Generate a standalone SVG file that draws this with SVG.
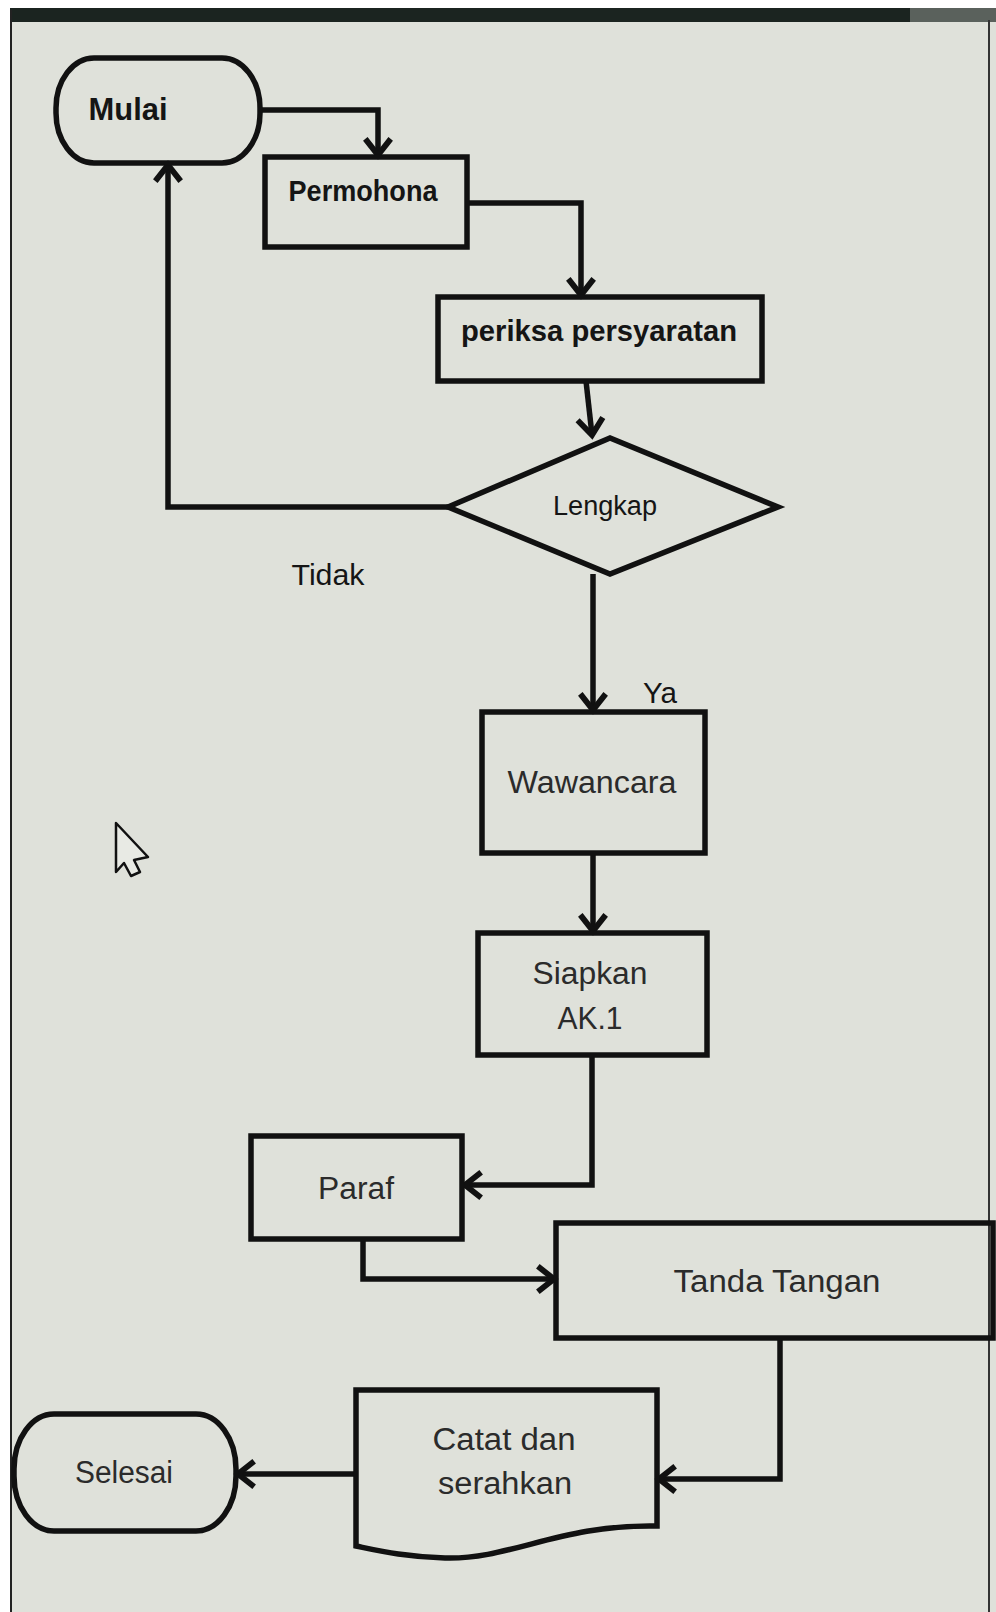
<svg xmlns="http://www.w3.org/2000/svg" width="996" height="1612" viewBox="0 0 996 1612">
<defs>
<style>
.shape{fill:none;stroke:#111;stroke-width:5.5;stroke-linejoin:miter}
.conn{fill:none;stroke:#111;stroke-width:5.5}
.t{font-family:"Liberation Sans",Arial,sans-serif;fill:#151515;text-anchor:middle}
.b{font-weight:bold}
.g{fill:#2b2b2b}
</style>
<marker id="ah" markerUnits="userSpaceOnUse" markerWidth="30" markerHeight="30" viewBox="-2 -2 20 26" refX="14" refY="11" orient="auto" overflow="visible">
<path d="M0,0 L14,11 L0,22" fill="none" stroke="#111" stroke-width="5"/>
</marker>
</defs>
<rect x="0" y="0" width="996" height="1612" fill="#ffffff"/>
<rect x="10" y="10" width="986" height="1602" fill="#dfe1da"/>
<rect x="10" y="8" width="900" height="14" fill="#1b2420"/>
<rect x="910" y="8" width="86" height="14" fill="#5a615c"/>
<line x1="11" y1="10" x2="11" y2="1612" stroke="#222" stroke-width="2"/>
<line x1="989" y1="20" x2="989" y2="1612" stroke="#333" stroke-width="2"/>

<g id="connectors">
<path class="conn" d="M260,110 H378 V155" marker-end="url(#ah)"/>
<path class="conn" d="M467,203 H581 V295" marker-end="url(#ah)"/>
<path class="conn" d="M586,381 L592,435" marker-end="url(#ah)"/>
<path class="conn" d="M448,507 H168 V165" marker-end="url(#ah)"/>
<path class="conn" d="M593,574 V710" marker-end="url(#ah)"/>
<path class="conn" d="M593,853 V931" marker-end="url(#ah)"/>
<path class="conn" d="M592,1055 V1185 H465" marker-end="url(#ah)"/>
<path class="conn" d="M363,1239 V1279 H554" marker-end="url(#ah)"/>
<path class="conn" d="M780,1338 V1479 H659" marker-end="url(#ah)"/>
<path class="conn" d="M356,1474 H238" marker-end="url(#ah)"/>
</g>

<g id="mulai">
<rect class="shape" x="56" y="58" width="204" height="105" rx="38" ry="50"/>
<text class="t b" x="128" y="120" font-size="31" textLength="79" lengthAdjust="spacingAndGlyphs">Mulai</text>
</g>
<g id="permohona">
<rect class="shape" x="265" y="157" width="202" height="90"/>
<text class="t b" x="363" y="201" font-size="29" textLength="149" lengthAdjust="spacingAndGlyphs">Permohona</text>
</g>
<g id="periksa">
<rect class="shape" x="438" y="297" width="324" height="84"/>
<text class="t b" x="599" y="341" font-size="29" textLength="276" lengthAdjust="spacingAndGlyphs">periksa persyaratan</text>
</g>
<g id="lengkap">
<polygon class="shape" points="448,507 610,438 778,507 610,574"/>
<text class="t" x="605" y="515" font-size="27" textLength="104" lengthAdjust="spacingAndGlyphs">Lengkap</text>
</g>
<g id="label-tidak">
<text class="t" x="328" y="585" font-size="30" textLength="73" lengthAdjust="spacingAndGlyphs">Tidak</text>
</g>
<g id="label-ya">
<text class="t" x="660" y="703" font-size="30" textLength="34" lengthAdjust="spacingAndGlyphs">Ya</text>
</g>
<g id="wawancara">
<rect class="shape" x="482" y="712" width="223" height="141"/>
<text class="t g" x="592" y="793" font-size="31" textLength="169" lengthAdjust="spacingAndGlyphs">Wawancara</text>
</g>
<g id="siapkan">
<rect class="shape" x="478" y="933" width="229" height="122"/>
<text class="t g" x="590" y="984" font-size="31" textLength="115" lengthAdjust="spacingAndGlyphs">Siapkan</text>
<text class="t g" x="590" y="1029" font-size="31" textLength="65" lengthAdjust="spacingAndGlyphs">AK.1</text>
</g>
<g id="paraf">
<rect class="shape" x="251" y="1136" width="211" height="103"/>
<text class="t g" x="356" y="1199" font-size="31" textLength="76" lengthAdjust="spacingAndGlyphs">Paraf</text>
</g>
<g id="tanda-tangan">
<rect class="shape" x="556" y="1223" width="437" height="115"/>
<text class="t g" x="777" y="1292" font-size="31" textLength="207" lengthAdjust="spacingAndGlyphs">Tanda Tangan</text>
</g>
<g id="catat">
<path class="shape" d="M356,1390 H657 V1526 C560,1524 510,1560 445,1558 C405,1557 380,1551 356,1546 Z"/>
<text class="t g" x="504" y="1450" font-size="31" textLength="143" lengthAdjust="spacingAndGlyphs">Catat dan</text>
<text class="t g" x="505" y="1494" font-size="31" textLength="134" lengthAdjust="spacingAndGlyphs">serahkan</text>
</g>
<g id="selesai">
<rect class="shape" x="14" y="1414" width="222" height="117" rx="40" ry="55"/>
<text class="t g" x="124" y="1483" font-size="31" textLength="98" lengthAdjust="spacingAndGlyphs">Selesai</text>
</g>
<g id="cursor">
<polygon points="116,823 116,872 124,863 131,876 140,872 134,860 148,857" fill="#e8eae4" stroke="#111" stroke-width="2.5" stroke-linejoin="round"/>
</g>
</svg>
